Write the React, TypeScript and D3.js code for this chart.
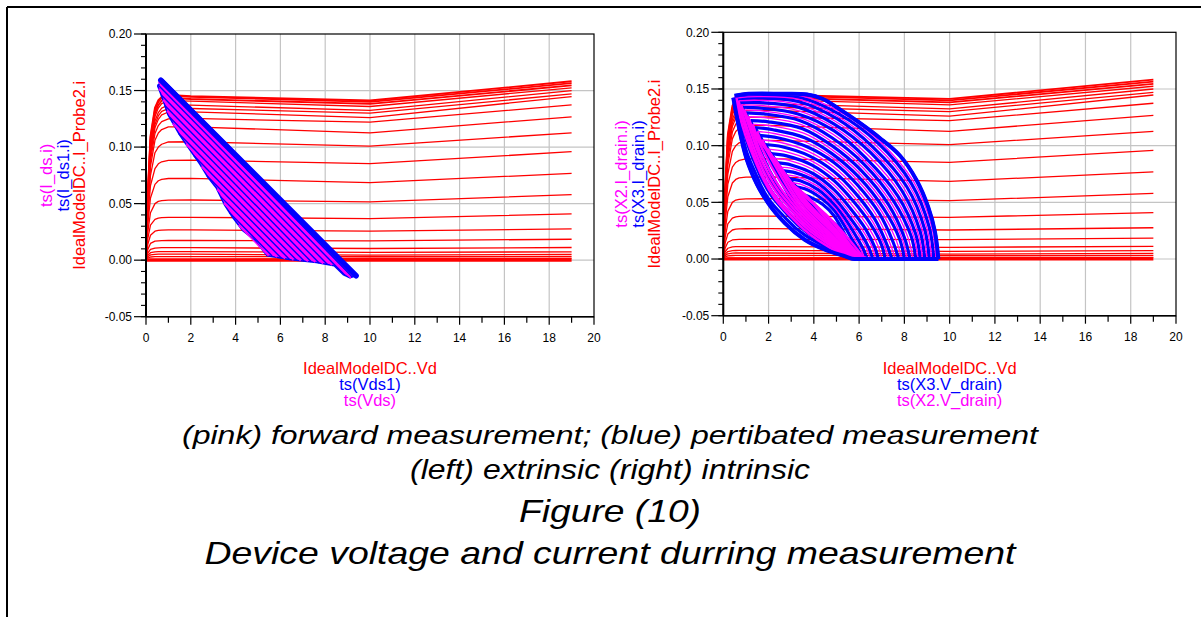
import React from "react";
import * as d3 from "d3";

// ---------- DATA ----------
const xMajorTicks = [0, 2, 4, 6, 8, 10, 12, 14, 16, 18, 20];
const xTickLabels = ["0", "2", "4", "6", "8", "10", "12", "14", "16", "18", "20"];
const yMajorTicks = [0.2, 0.15, 0.1, 0.05, 0, -0.05];
const yTickLabels = ["0.20", "0.15", "0.10", "0.05", "0.00", "-0.05"];

// DC I-V family (IdealModelDC..I_Probe2.i vs IdealModelDC..Vd)
const vdKnots = [0, 0.08, 0.2, 0.4, 0.55, 0.7, 1.0, 2, 10, 19];
const dcCurves: number[][] = [
  [0, 0.06, 0.11, 0.135, 0.1415, 0.1445, 0.1462, 0.145, 0.1412, 0.1582],
  [0, 0.058, 0.108, 0.133, 0.1400, 0.1435, 0.1455, 0.1444, 0.14, 0.1565],
  [0, 0.056, 0.105, 0.13, 0.1370, 0.141, 0.1435, 0.1425, 0.1382, 0.1545],
  [0, 0.055, 0.102, 0.127, 0.1345, 0.1385, 0.141, 0.1406, 0.1359, 0.1524],
  [0, 0.053, 0.098, 0.123, 0.1305, 0.1345, 0.1372, 0.1371, 0.1324, 0.15],
  [0, 0.052, 0.095, 0.12, 0.1275, 0.1315, 0.134, 0.1341, 0.13, 0.147],
  [0, 0.05, 0.092, 0.117, 0.1245, 0.1285, 0.131, 0.1312, 0.126, 0.1447],
  [0, 0.048, 0.088, 0.112, 0.1190, 0.1225, 0.125, 0.1253, 0.122, 0.1374],
  [0, 0.046, 0.083, 0.106, 0.1125, 0.1155, 0.1178, 0.1179, 0.1126, 0.1268],
  [0, 0.042, 0.075, 0.095, 0.1000, 0.1025, 0.1045, 0.1047, 0.1009, 0.1126],
  [0, 0.037, 0.066, 0.081, 0.0852, 0.087, 0.0883, 0.0885, 0.0853, 0.0959],
  [0, 0.032, 0.055, 0.067, 0.0702, 0.0715, 0.0722, 0.0724, 0.0685, 0.0768],
  [0, 0.025, 0.042, 0.05, 0.0520, 0.0527, 0.0531, 0.0532, 0.0515, 0.0579],
  [0, 0.019, 0.031, 0.036, 0.0372, 0.0376, 0.0378, 0.0379, 0.0368, 0.0409],
  [0, 0.014, 0.022, 0.0256, 0.0263, 0.0266, 0.0267, 0.0268, 0.0256, 0.0276],
  [0, 0.0095, 0.0148, 0.0168, 0.0171, 0.0173, 0.0174, 0.0174, 0.0171, 0.0185],
  [0, 0.0062, 0.0095, 0.0107, 0.0109, 0.011, 0.011, 0.011, 0.0103, 0.0112],
  [0, 0.0043, 0.0066, 0.0074, 0.0075, 0.0076, 0.0076, 0.0076, 0.0068, 0.0074],
  [0, 0.003, 0.0046, 0.0052, 0.0053, 0.0053, 0.0053, 0.0053, 0.0044, 0.005],
  [0, 0.0018, 0.0028, 0.0031, 0.0032, 0.0032, 0.0032, 0.0032, 0.003, 0.0032],
  [0, 0.0006, 0.0009, 0.001, 0.001, 0.001, 0.001, 0.001, 0.0015, 0.0015],
  [0, 0, 0, 0, 0, 0, 0, 0, 0, 0],
];

// Left (extrinsic): load-line band
const leftBandOutline: number[][] = [
  [0.74, 0.16], [9.42, -0.0135], [9.1, -0.0156], [8.8, -0.0127], [8.4, -0.005],
  [7.6, -0.002], [6.4, 0.0006], [5.4, 0.004], [4.84, 0.018], [4.32, 0.026],
  [3.88, 0.0375], [3.5, 0.049], [3.13, 0.064], [2.77, 0.073], [2.4, 0.085],
  [1.94, 0.098], [1.49, 0.111], [0.97, 0.129], [0.82, 0.138], [0.6, 0.15], [0.52, 0.154],
];
const leftUpperEdge: number[][] = [[0.66, 0.1592], [9.38, -0.0138]];
// [Vstart, Istart, Vend, Iend]
const leftLoadLines: number[][] = [
  [0.6, 0.1598, 9.2, -0.0147],
  [0.55, 0.1578, 9.15, -0.016],
  [0.52, 0.1554, 8.9, -0.0138],
  [0.56, 0.1516, 8.3, -0.0045],
  [0.68, 0.146, 8.1, -0.0038],
  [0.75, 0.1417, 7.9, -0.0031],
  [0.84, 0.1368, 7.73, -0.0025],
  [0.93, 0.1319, 7.55, -0.0019],
  [1.05, 0.1265, 7.38, -0.0015],
  [1.18, 0.1208, 7.22, -0.0011],
  [1.45, 0.1123, 7.06, -0.0008],
  [1.78, 0.1026, 6.9, -0.0006],
  [2.14, 0.0923, 6.74, -0.0004],
  [2.47, 0.0826, 6.58, 0.0],
  [2.72, 0.0746, 6.42, 0.0004],
  [3.17, 0.0624, 6.2, 0.0012],
  [3.32, 0.0564, 6.05, 0.0016],
  [3.47, 0.0503, 5.84, 0.0025],
  [3.72, 0.0422, 5.63, 0.0037],
  [4.13, 0.0309, 5.47, 0.0038],
];

// Right (intrinsic): perturbated loops (blue) — upper arcs (tip -> end)
const rightBlueUpper: number[][][] = [
  [[0.5, 0.144], [1.0, 0.1456], [2.5, 0.1458], [3.7, 0.1452], [4.4, 0.1412], [5.15, 0.132], [6.0, 0.1205], [6.9, 0.107], [7.8, 0.0913], [8.54, 0.0695], [9.05, 0.046], [9.35, 0.024], [9.5, 0]],
  [[0.55, 0.143], [1.5, 0.1445], [3.4, 0.1425], [5.1, 0.128], [6.8, 0.103], [8.3, 0.067], [9.1, 0.028], [9.3, 0]],
  [[0.62, 0.141], [1.5, 0.142], [3.3, 0.139], [5.0, 0.124], [6.6, 0.099], [8.1, 0.064], [8.9, 0.026], [9.1, 0]],
  [[0.72, 0.138], [1.6, 0.138], [3.3, 0.134], [4.9, 0.119], [6.5, 0.094], [7.9, 0.06], [8.7, 0.024], [8.9, 0]],
  [[0.85, 0.134], [1.7, 0.133], [3.3, 0.128], [4.9, 0.113], [6.3, 0.089], [7.7, 0.056], [8.5, 0.022], [8.7, 0]],
  [[1.0, 0.129], [1.8, 0.128], [3.4, 0.122], [4.8, 0.107], [6.2, 0.084], [7.5, 0.052], [8.3, 0.02], [8.5, 0]],
  [[1.2, 0.122], [2.0, 0.121], [3.5, 0.115], [4.8, 0.1], [6.1, 0.078], [7.3, 0.048], [8.0, 0.019], [8.25, 0]],
  [[1.4, 0.116], [2.2, 0.114], [3.6, 0.107], [4.8, 0.093], [6.0, 0.072], [7.1, 0.044], [7.8, 0.017], [8.0, 0]],
  [[1.6, 0.109], [2.4, 0.107], [3.7, 0.099], [4.9, 0.085], [5.9, 0.066], [6.9, 0.04], [7.5, 0.015], [7.75, 0]],
  [[1.85, 0.101], [2.6, 0.099], [3.8, 0.091], [4.9, 0.077], [5.8, 0.059], [6.7, 0.035], [7.2, 0.014], [7.45, 0]],
  [[2.1, 0.093], [2.8, 0.091], [3.9, 0.083], [4.9, 0.069], [5.7, 0.052], [6.5, 0.031], [7.0, 0.012], [7.15, 0]],
  [[2.35, 0.085], [3.0, 0.083], [4.0, 0.075], [4.9, 0.061], [5.6, 0.045], [6.3, 0.026], [6.7, 0.01], [6.85, 0]],
  [[2.6, 0.078], [3.2, 0.076], [4.1, 0.068], [4.9, 0.054], [5.5, 0.039], [6.1, 0.022], [6.45, 0.009], [6.6, 0]],
  [[2.85, 0.071], [3.4, 0.069], [4.2, 0.061], [4.9, 0.048], [5.4, 0.035], [5.9, 0.019], [6.2, 0.008], [6.35, 0]],
  [[3.1, 0.064], [3.6, 0.062], [4.3, 0.054], [4.9, 0.043], [5.3, 0.031], [5.7, 0.017], [6.0, 0.007], [6.15, 0]],
  [[3.4, 0.057], [3.8, 0.055], [4.4, 0.048], [4.9, 0.038], [5.2, 0.028], [5.55, 0.015], [5.8, 0.006], [5.95, 0]],
];
// lower arcs (tip -> end)
const rightBlueLower: number[][][] = [
  [[0.44, 0.1423], [0.66, 0.119], [0.96, 0.0928], [1.4, 0.0695], [1.99, 0.049], [2.72, 0.0316], [3.6, 0.017], [4.49, 0.0083], [5.37, 0.0025], [5.8, 0], [9.5, 0]],
  [[0.55, 0.143], [0.75, 0.118], [1.5, 0.072], [2.8, 0.035], [4.6, 0.01], [5.9, 0], [9.3, 0]],
  [[0.62, 0.141], [0.85, 0.118], [1.6, 0.075], [2.9, 0.038], [4.6, 0.012], [6.0, 0], [9.1, 0]],
  [[0.72, 0.138], [0.95, 0.118], [1.6, 0.08], [2.9, 0.041], [4.6, 0.014], [6.05, 0], [8.9, 0]],
  [[0.85, 0.134], [1.1, 0.117], [1.7, 0.084], [3.0, 0.044], [4.6, 0.016], [6.1, 0], [8.7, 0]],
  [[1.0, 0.129], [1.3, 0.113], [1.8, 0.088], [3.0, 0.047], [4.6, 0.018], [6.15, 0], [8.5, 0]],
  [[1.2, 0.122], [1.5, 0.108], [2.0, 0.089], [3.1, 0.05], [4.6, 0.02], [6.2, 0], [8.25, 0]],
  [[1.4, 0.116], [2.2, 0.087], [3.1, 0.053], [4.6, 0.022], [6.25, 0], [8.0, 0]],
  [[1.6, 0.109], [2.3, 0.084], [3.2, 0.056], [4.6, 0.024], [6.3, 0], [7.75, 0]],
  [[1.85, 0.101], [2.5, 0.08], [3.3, 0.056], [4.6, 0.026], [6.35, 0], [7.45, 0]],
  [[2.1, 0.093], [2.7, 0.076], [3.5, 0.054], [4.7, 0.027], [6.4, 0], [7.15, 0]],
  [[2.35, 0.085], [2.9, 0.07], [3.6, 0.052], [4.8, 0.027], [6.5, 0], [6.85, 0]],
  [[2.6, 0.078], [3.1, 0.066], [3.7, 0.05], [4.9, 0.028], [6.5, 0], [6.6, 0]],
  [[2.85, 0.071], [3.3, 0.062], [3.9, 0.047], [5.0, 0.028], [6.3, 0], [6.35, 0]],
  [[3.1, 0.064], [3.5, 0.057], [4.1, 0.044], [5.1, 0.027], [6.15, 0]],
  [[3.4, 0.057], [3.8, 0.05], [4.3, 0.041], [5.2, 0.025], [5.95, 0]],
];
// Right (intrinsic): forward loops (pink)
const rightPinkUpper: number[][][] = [
  [[0.52, 0.1435], [1.5, 0.1451], [3.45, 0.144], [5.15, 0.13], [6.85, 0.105], [8.4, 0.0685], [9.2, 0.029], [9.4, 0]],
  [[0.58, 0.142], [1.5, 0.1432], [3.35, 0.1408], [5.05, 0.126], [6.7, 0.101], [8.2, 0.0655], [9.0, 0.027], [9.2, 0]],
  [[0.67, 0.1395], [1.55, 0.14], [3.3, 0.1365], [4.95, 0.1215], [6.55, 0.0965], [8.0, 0.062], [8.8, 0.025], [9.0, 0]],
  [[0.78, 0.136], [1.65, 0.1355], [3.3, 0.131], [4.9, 0.116], [6.4, 0.0915], [7.8, 0.058], [8.6, 0.023], [8.8, 0]],
  [[0.92, 0.1315], [1.75, 0.1305], [3.35, 0.125], [4.85, 0.11], [6.25, 0.0865], [7.6, 0.054], [8.4, 0.021], [8.6, 0]],
  [[1.1, 0.1255], [1.9, 0.1245], [3.45, 0.1185], [4.8, 0.1035], [6.15, 0.081], [7.4, 0.05], [8.15, 0.0195], [8.38, 0]],
  [[1.3, 0.119], [2.1, 0.1175], [3.55, 0.111], [4.8, 0.0965], [6.05, 0.075], [7.2, 0.046], [7.9, 0.018], [8.12, 0]],
  [[1.5, 0.1125], [2.3, 0.1105], [3.65, 0.103], [4.85, 0.089], [5.95, 0.069], [7.0, 0.042], [7.65, 0.016], [7.88, 0]],
  [[1.72, 0.105], [2.5, 0.103], [3.75, 0.095], [4.9, 0.081], [5.85, 0.0625], [6.8, 0.0375], [7.35, 0.0145], [7.6, 0]],
  [[1.97, 0.097], [2.7, 0.095], [3.85, 0.087], [4.9, 0.073], [5.75, 0.0555], [6.6, 0.033], [7.1, 0.013], [7.3, 0]],
  [[2.22, 0.089], [2.9, 0.087], [3.95, 0.079], [4.9, 0.065], [5.65, 0.0485], [6.4, 0.0285], [6.85, 0.011], [7.0, 0]],
  [[2.47, 0.081], [3.1, 0.0795], [4.05, 0.0715], [4.9, 0.0575], [5.55, 0.042], [6.2, 0.024], [6.6, 0.0095], [6.72, 0]],
  [[2.72, 0.0745], [3.3, 0.0725], [4.15, 0.0645], [4.9, 0.051], [5.45, 0.037], [6.0, 0.0205], [6.35, 0.0085], [6.48, 0]],
  [[2.97, 0.0675], [3.5, 0.0655], [4.25, 0.0575], [4.9, 0.0455], [5.35, 0.033], [5.8, 0.018], [6.1, 0.0075], [6.25, 0]],
];
const rightPinkLower: number[][][] = [
  [[0.52, 0.1435], [0.7, 0.128], [1.5, 0.082], [3.3, 0.031], [4.5, 0.0125], [6.0, 0], [9.4, 0]],
  [[0.58, 0.142], [0.75, 0.13], [1.5, 0.085], [3.3, 0.034], [4.5, 0.015], [6.05, 0], [9.2, 0]],
  [[0.67, 0.1395], [0.8, 0.131], [1.55, 0.088], [3.3, 0.037], [4.5, 0.017], [6.1, 0], [9.0, 0]],
  [[0.78, 0.136], [0.9, 0.13], [1.6, 0.091], [3.3, 0.04], [4.5, 0.019], [6.15, 0], [8.8, 0]],
  [[0.92, 0.1315], [1.0, 0.128], [1.65, 0.094], [3.3, 0.043], [4.5, 0.021], [6.2, 0], [8.6, 0]],
  [[1.1, 0.1255], [1.2, 0.12], [1.75, 0.096], [3.3, 0.046], [4.5, 0.023], [6.25, 0], [8.38, 0]],
  [[1.3, 0.119], [1.4, 0.113], [1.9, 0.096], [3.3, 0.049], [4.5, 0.025], [6.3, 0], [8.12, 0]],
  [[1.5, 0.1125], [1.6, 0.107], [2.1, 0.092], [3.35, 0.051], [4.5, 0.027], [6.35, 0], [7.88, 0]],
  [[1.72, 0.105], [1.9, 0.098], [2.4, 0.085], [3.4, 0.053], [4.55, 0.029], [6.4, 0], [7.6, 0]],
  [[1.97, 0.097], [2.1, 0.092], [2.6, 0.079], [3.45, 0.054], [4.6, 0.03], [6.45, 0], [7.3, 0]],
  [[2.22, 0.089], [2.35, 0.085], [2.8, 0.073], [3.5, 0.055], [4.65, 0.031], [6.5, 0], [7.0, 0]],
  [[2.47, 0.081], [2.6, 0.077], [3.0, 0.067], [3.6, 0.057], [4.7, 0.032], [6.55, 0], [6.72, 0]],
  [[2.72, 0.0745], [2.85, 0.07], [3.3, 0.062], [3.8, 0.053], [4.8, 0.033], [6.4, 0], [6.48, 0]],
  [[2.97, 0.0675], [3.1, 0.064], [3.6, 0.055], [4.1, 0.047], [5.0, 0.03], [6.25, 0]],
];

const leftXLabels = ["IdealModelDC..Vd", "ts(Vds1)", "ts(Vds)"];
const leftYLabels = ["ts(I_ds.i)", "ts(I_ds1.i)", "IdealModelDC..I_Probe2.i"];
const rightXLabels = ["IdealModelDC..Vd", "ts(X3.V_drain)", "ts(X2.V_drain)"];
const rightYLabels = ["ts(X2.I_drain.i)", "ts(X3.I_drain.i)", "IdealModelDC..I_Probe2.i"];
const captionLines = [
  "(pink) forward measurement; (blue) pertibated measurement",
  "(left) extrinsic (right) intrinsic",
  "Figure (10)",
  "Device voltage and current durring measurement",
];

// ---------- STYLE ----------
const FONT = "'Liberation Sans', Arial, Helvetica, sans-serif";
const RED = "#ff0000";
const BLUE = "#0000ff";
const PINK = "#ff00ff";
const xLabelColors = [RED, BLUE, PINK];
const yLabelColors = [PINK, BLUE, RED];

type PanelCfg = {
  x0: number; x1: number; yTop: number; yBot: number;
  xLabels: string[]; yLabels: string[]; yLabelX: number[];
  kind: "left" | "right";
};

function Panel({ p }: { p: PanelCfg }) {
  const x = d3.scaleLinear().domain([0, 20]).range([p.x0, p.x1]);
  const y = d3.scaleLinear().domain([-0.05, 0.2]).range([p.yBot, p.yTop]);
  const lin = d3.line<number[]>().x((d) => x(d[0])).y((d) => y(d[1]));
  const mono = d3
    .line<number[]>()
    .x((d) => x(d[0]))
    .y((d) => y(d[1]))
    .curve(d3.curveMonotoneX);
  const arc = d3
    .line<number[]>()
    .x((d) => x(d[0]))
    .y((d) => y(d[1]))
    .curve(d3.curveCatmullRom.alpha(0.5));
  const xMinor = x.ticks(20).filter((v) => v % 2 !== 0);
  const yMinor = y.ticks(25);
  const cx = (p.x0 + p.x1) / 2;
  const cy = (p.yTop + p.yBot) / 2;

  return (
    <g>
      {/* grid */}
      {xMajorTicks.slice(1, -1).map((v) => (
        <line key={"gx" + v} x1={x(v)} x2={x(v)} y1={p.yTop} y2={p.yBot} stroke="#c4c4c4" strokeWidth={1.2} />
      ))}
      {yMajorTicks.slice(1, -1).map((v) => (
        <line key={"gy" + v} x1={p.x0} x2={p.x1} y1={y(v)} y2={y(v)} stroke="#c4c4c4" strokeWidth={1.2} />
      ))}

      {/* DC curves */}
      {dcCurves.map((row, k) => (
        <path
          key={"dc" + k}
          d={lin(vdKnots.map((v, j) => [v, row[j]])) || ""}
          fill="none"
          stroke={RED}
          strokeLinejoin="round"
          strokeWidth={k === dcCurves.length - 1 ? 3.2 : k < 3 ? 1.8 : 1.3}
        />
      ))}

      {p.kind === "left" && (
        <g>
          <path d={(lin(leftBandOutline) || "") + "Z"} fill={PINK} stroke={BLUE} strokeWidth={1.5} strokeLinejoin="round" />
          {leftLoadLines.map((s, k) => (
            <line
              key={"ll" + k}
              x1={x(s[0])} y1={y(s[1])} x2={x(s[2])} y2={y(s[3])}
              stroke={k % 2 === 0 ? BLUE : PINK}
              strokeWidth={1.4}
            />
          ))}
          <path d={lin(leftUpperEdge) || ""} stroke={BLUE} strokeWidth={5.5} strokeLinecap="round" fill="none" />
        </g>
      )}

      {p.kind === "right" && (
        <g fill="none">
          {rightBlueUpper.map((pts, k) => (
            <path key={"bu" + k} d={arc(pts) || ""} stroke={BLUE} strokeWidth={3.2} />
          ))}
          {rightBlueLower.map((pts, k) => (
            <path key={"bl" + k} d={mono(pts) || ""} stroke={BLUE} strokeWidth={3.2} />
          ))}
          {rightPinkUpper.map((pts, k) => (
            <path key={"pu" + k} d={arc(pts) || ""} stroke={PINK} strokeWidth={1.3} />
          ))}
          {rightPinkLower.map((pts, k) => (
            <path key={"pl" + k} d={mono(pts) || ""} stroke={PINK} strokeWidth={2.4} />
          ))}
          <path d={arc(rightBlueUpper[0]) || ""} stroke={BLUE} strokeWidth={4} />
          <path d={mono(rightBlueLower[0]) || ""} stroke={BLUE} strokeWidth={4} />
        </g>
      )}

      {/* frame */}
      <rect x={p.x0} y={p.yTop} width={p.x1 - p.x0} height={p.yBot - p.yTop} fill="none" stroke="#000" strokeWidth={1.2} />
      <line x1={p.x0} x2={p.x0} y1={p.yTop} y2={p.yBot} stroke="#000" strokeWidth={2} />
      <line x1={p.x0} x2={p.x1} y1={p.yBot} y2={p.yBot} stroke="#000" strokeWidth={1.6} />

      {/* ticks */}
      {xMajorTicks.map((v) => (
        <line key={"xt" + v} x1={x(v)} x2={x(v)} y1={p.yBot} y2={p.yBot + 8} stroke="#000" strokeWidth={1.2} />
      ))}
      {xMinor.map((v) => (
        <line key={"xm" + v} x1={x(v)} x2={x(v)} y1={p.yBot} y2={p.yBot + 6} stroke="#000" strokeWidth={1.2} />
      ))}
      {yMajorTicks.map((v) => (
        <line key={"yt" + v} x1={p.x0 - 12} x2={p.x0} y1={y(v)} y2={y(v)} stroke="#000" strokeWidth={1.2} />
      ))}
      {yMinor.map((v, i) => (
        <line key={"ym" + i} x1={p.x0 - 5} x2={p.x0} y1={y(v)} y2={y(v)} stroke="#000" strokeWidth={1.1} />
      ))}

      {/* tick labels */}
      {xMajorTicks.map((v, i) => (
        <text key={"xl" + v} x={x(v)} y={p.yBot + 25.5} textAnchor="middle" fontSize={12} fontFamily={FONT} fill="#000">
          {xTickLabels[i]}
        </text>
      ))}
      {yMajorTicks.map((v, i) => (
        <text key={"yl" + v} x={p.x0 - 14} y={y(v) + 4.2} textAnchor="end" fontSize={12} fontFamily={FONT} fill="#000">
          {yTickLabels[i]}
        </text>
      ))}

      {/* axis titles */}
      {p.xLabels.map((t, i) => (
        <text key={"xa" + i} x={cx} y={374 + i * 16} textAnchor="middle" fontSize={16.5} fontFamily={FONT} fill={xLabelColors[i]}>
          {t}
        </text>
      ))}
      {p.yLabels.map((t, i) => (
        <text
          key={"ya" + i}
          transform={`translate(${p.yLabelX[i]},${cy}) rotate(-90)`}
          textAnchor="middle"
          fontSize={16.5}
          fontFamily={FONT}
          fill={yLabelColors[i]}
        >
          {t}
        </text>
      ))}
    </g>
  );
}

const leftPanel: PanelCfg = {
  x0: 146, x1: 594, yTop: 34, yBot: 316.7,
  xLabels: leftXLabels, yLabels: leftYLabels, yLabelX: [52, 68.5, 85], kind: "left",
};
const rightPanel: PanelCfg = {
  x0: 723.3, x1: 1176, yTop: 32.3, yBot: 315.7,
  xLabels: rightXLabels, yLabels: rightYLabels, yLabelX: [627, 643.5, 660], kind: "right",
};

const captionStyle = [
  { y: 444, size: 26.5, len: 856 },
  { y: 479, size: 27, len: 400 },
  { y: 521.5, size: 32, len: 182 },
  { y: 564, size: 32, len: 811 },
];

export default function App() {
  return (
    <svg
      width={1201}
      height={617}
      viewBox="0 0 1201 617"
      style={{ position: "absolute", left: 0, top: 0, background: "#fff" }}
    >
      <rect x={0} y={0} width={1201} height={617} fill="#fff" />
      <line x1={7} y1={7} x2={1201} y2={7} stroke="#000" strokeWidth={2} />
      <line x1={7} y1={7} x2={7} y2={617} stroke="#000" strokeWidth={2} />
      <Panel p={leftPanel} />
      <Panel p={rightPanel} />
      {captionLines.map((t, i) => (
        <text
          key={"cap" + i}
          x={610}
          y={captionStyle[i].y}
          textAnchor="middle"
          fontSize={captionStyle[i].size}
          fontStyle="italic"
          fontFamily={FONT}
          textLength={captionStyle[i].len}
          lengthAdjust="spacingAndGlyphs"
          fill="#000"
        >
          {t}
        </text>
      ))}
    </svg>
  );
}
